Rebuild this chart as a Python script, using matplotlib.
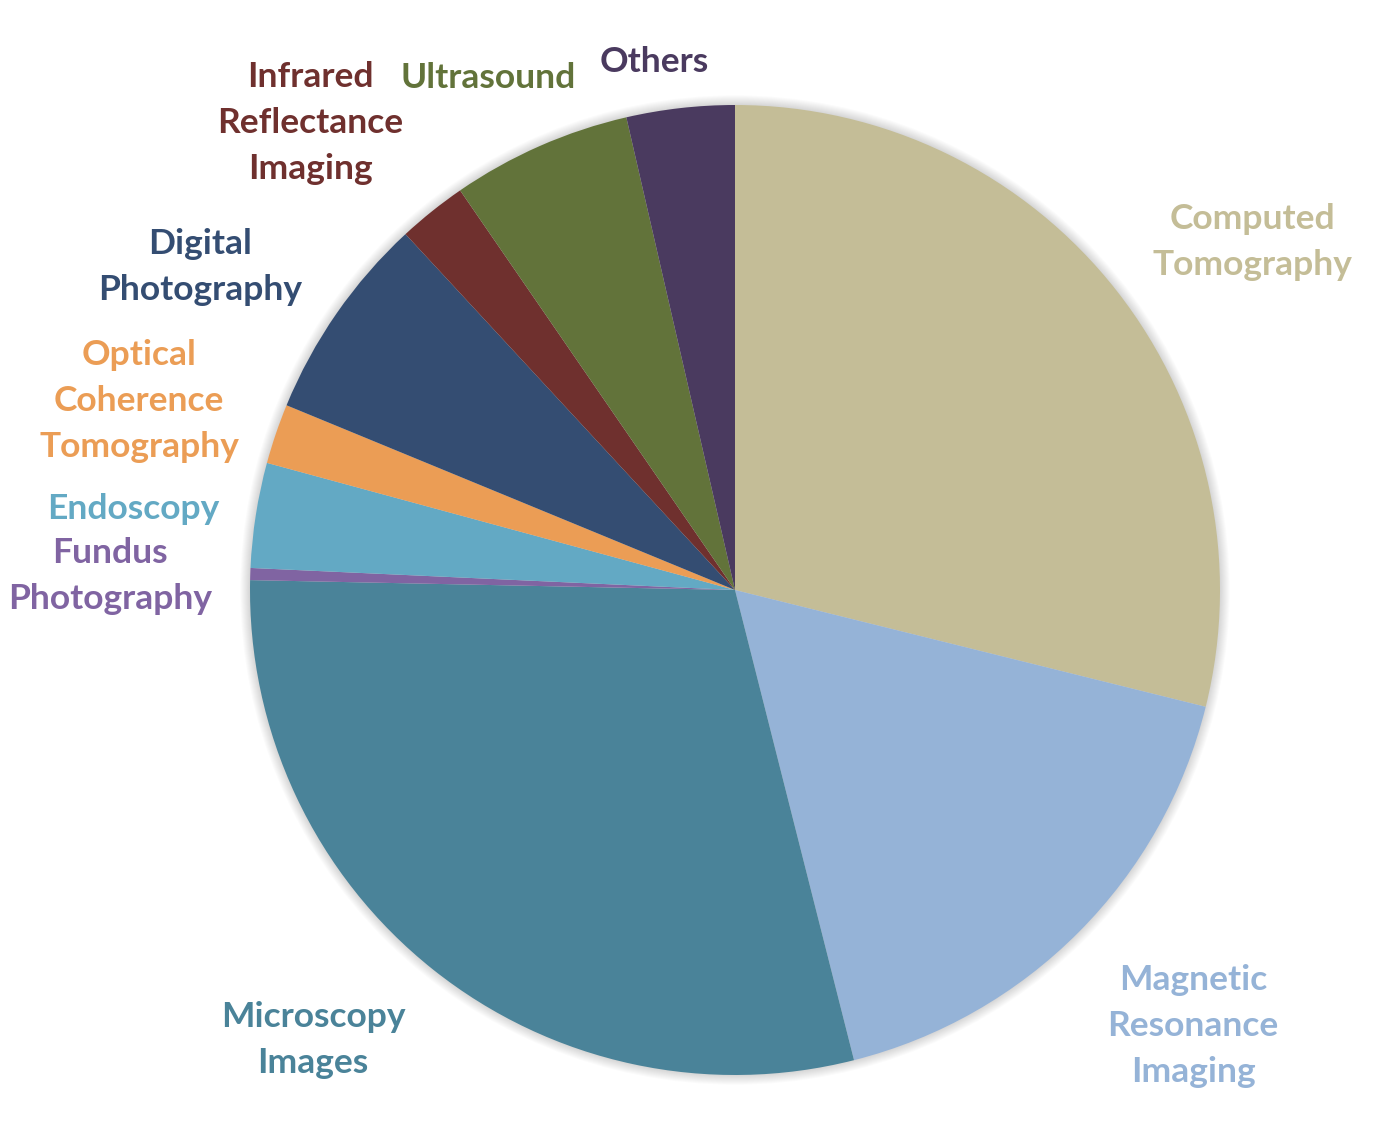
import matplotlib.pyplot as plt
from matplotlib.patches import Circle

# slice shares, clockwise from 12 o'clock
labels = ["Computed\nTomography", "Magnetic\nResonance\nImaging", "Microscopy\nImages",
          "Fundus\nPhotography", "Endoscopy", "Optical\nCoherence\nTomography",
          "Digital\nPhotography", "Infrared\nReflectance\nImaging", "Ultrasound", "Others"]
shares = [28.9, 17.2, 29.3, 0.4, 3.5, 2.0, 6.9, 2.3, 6.0, 3.6]
colors = ["#C4BD97", "#95B3D7", "#4A8399", "#8064A2", "#63A9C4",
          "#EB9D55", "#344D72", "#6F302E", "#62733A", "#4A3A5F"]

# label centres in pixels of the 1398x1128 output
label_px = [(1252, 242), (1193, 1026), (313, 1040), (110, 576), (133, 509),
            (139, 401), (200, 267), (310, 123), (488, 78), (654, 62)]

W, H = 1398, 1128
cx, cy, r = 735, 590, 485

fig = plt.figure(figsize=(W / 100, H / 100), dpi=100)
ax = fig.add_axes([(cx - r) / W, (H - cy - r) / H, 2 * r / W, 2 * r / H])

# soft shadow round the pie
for i in range(10):
    ax.add_patch(Circle((0, 0), 1.0 + 0.002 * (i + 1), color="black",
                        alpha=0.015, lw=0, zorder=0, clip_on=False))

ax.pie(shares, colors=colors, startangle=90, counterclock=False, radius=1.0,
       wedgeprops=dict(linewidth=0, clip_on=False))
ax.set_xlim(-1, 1)
ax.set_ylim(-1, 1)
ax.set_aspect("equal")
ax.axis("off")

for text, col, (px, py) in zip(labels, colors, label_px):
    fig.text(px / W, 1 - py / H, text, color=col, ha="center", va="center",
             fontsize=25.5, fontweight="bold", family="Lato", linespacing=1.52)

fig.savefig("out.png", dpi=100)
